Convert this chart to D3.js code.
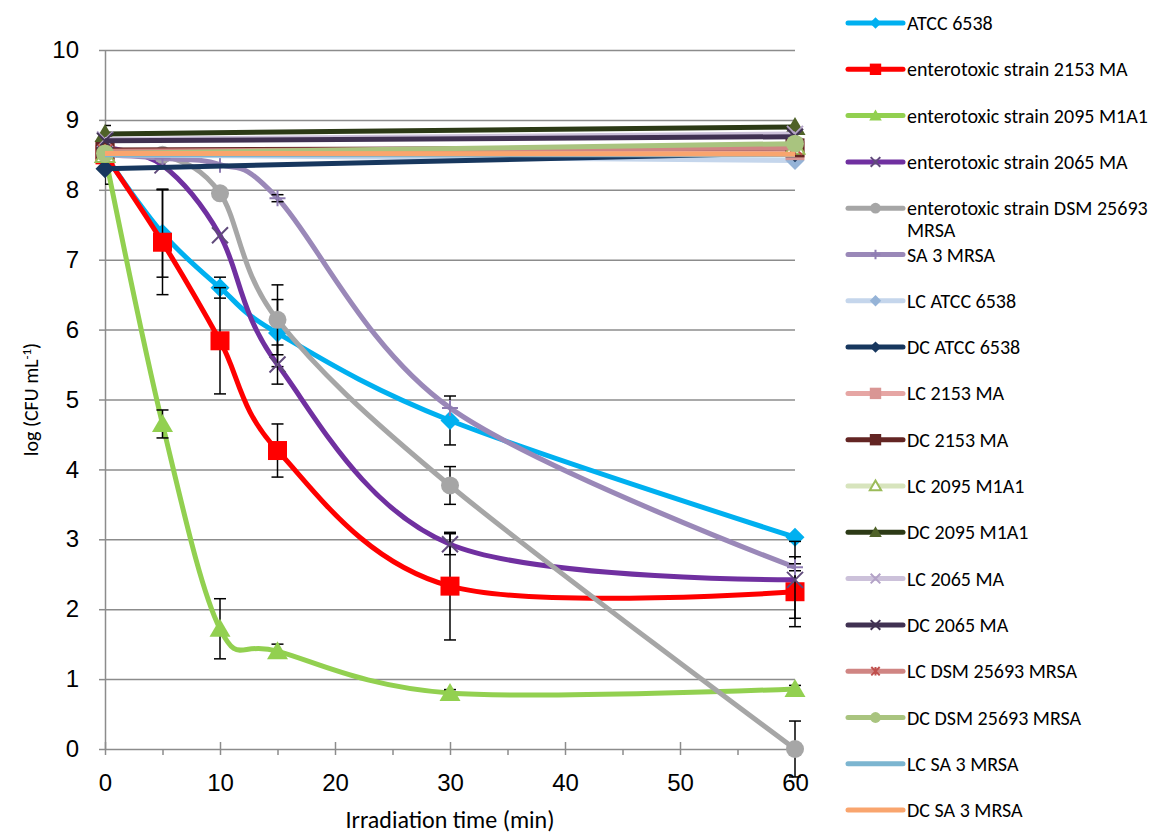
<!DOCTYPE html>
<html>
<head>
<meta charset="utf-8">
<script src="https://cdn.jsdelivr.net/npm/d3@7"></script>
<style>
  body { margin: 0; background: #fff; }
  svg { font-family: Carlito, Lato, sans-serif; }
  .grid line { stroke: #8c8c8c; stroke-width: 1.5; }
  .grid path { display: none; }
  .axis path, .axis line { stroke: #8c8c8c; stroke-width: 1.5; }
  .axis text { fill: #000; font-size: 24px; }
</style>
</head>
<body>
<script>
// time points (min)
var times = [0, 5, 10, 15, 30, 60];
var ctrlTimes = [0, 60];

// irradiated strains, log (CFU/mL)
var atcc6538 = [8.5, 7.38, 6.6, 5.95, 4.7, 3.03];
var ma2153 = [8.5, 7.25, 5.84, 4.27, 2.33, 2.25];
var m1a1_2095 = [8.5, 4.65, 1.72, 1.4, 0.8, 0.86];
var ma2065 = [8.6, 8.35, 7.35, 5.5, 2.93, 2.42];
var dsm25693 = [8.5, 8.5, 7.95, 6.14, 3.77, 0];
var sa3 = [8.5, 8.45, 8.36, 7.88, 4.88, 2.6];

// standard deviations
var atcc6538Err = [0.42, 0.63, 0.15, 0.48, 0.35, 0];
var ma2153Err = [0, 0.75, 0.76, 0.38, 0.77, 0.5];
var m1a1_2095Err = [0, 0.2, 0.43, 0.1, 0.05, 0.05];
var ma2065Err = [0, 0, 0, 0.28, 0.15, 0.55];
var dsm25693Err = [0, 0, 0, 0.5, 0.27, 0.4];
var sa3Err = [0, 0, 0, 0.05, 0, 0.05];

// light (LC) and dark (DC) controls, at 0 and 60 min
var lcAtcc = [8.5, 8.42];
var dcAtcc = [8.3, 8.53];
var lc2153 = [8.55, 8.56];
var dc2153 = [8.57, 8.6];
var lc2095 = [8.5, 8.62];
var dc2095 = [8.8, 8.9];
var lc2065 = [8.72, 8.8];
var dc2065 = [8.7, 8.76];
var lcDsm = [8.55, 8.6];
var dcDsm = [8.52, 8.66];
var lcSa3 = [8.5, 8.5];
var dcSa3 = [8.52, 8.51];

var yTicks = [0, 1, 2, 3, 4, 5, 6, 7, 8, 9, 10];
var xTicks = [0, 10, 20, 30, 40, 50, 60];
var xMinorTicks = [5, 15, 25, 35, 45, 55];

var series = [
  {name: "ATCC 6538", x: times, y: atcc6538, err: atcc6538Err, color: "#00b0f0", mk: "diamond", mfill: "#00b0f0"},
  {name: "enterotoxic strain 2153 MA", x: times, y: ma2153, err: ma2153Err, color: "#ff0000", mk: "square", mfill: "#ff0000"},
  {name: "enterotoxic strain 2095 M1A1", x: times, y: m1a1_2095, err: m1a1_2095Err, color: "#92d050", mk: "triangle", mfill: "#92d050"},
  {name: "enterotoxic strain 2065 MA", x: times, y: ma2065, err: ma2065Err, color: "#7030a0", mk: "x", mfill: "#604a7b"},
  {name: "enterotoxic strain DSM 25693 MRSA", x: times, y: dsm25693, err: dsm25693Err, color: "#a6a6a6", mk: "circle", mfill: "#a6a6a6"},
  {name: "SA 3 MRSA", x: times, y: sa3, err: sa3Err, color: "#9a88b8", mk: "plus", mfill: "#8e7cb2"},
  {name: "LC ATCC 6538", x: ctrlTimes, y: lcAtcc, color: "#c5d6ec", mk: "diamond", mfill: "#95b3d7"},
  {name: "DC ATCC 6538", x: ctrlTimes, y: dcAtcc, color: "#17375e", mk: "diamond", mfill: "#17375e"},
  {name: "LC 2153 MA", x: ctrlTimes, y: lc2153, color: "#e6a6a4", mk: "square", mfill: "#d99694"},
  {name: "DC 2153 MA", x: ctrlTimes, y: dc2153, color: "#632523", mk: "square", mfill: "#632523"},
  {name: "LC 2095 M1A1", x: ctrlTimes, y: lc2095, color: "#d7e4bd", mk: "opentri", mfill: "#9bbb59"},
  {name: "DC 2095 M1A1", x: ctrlTimes, y: dc2095, color: "#2c3a16", mk: "triangle", mfill: "#4f6228"},
  {name: "LC 2065 MA", x: ctrlTimes, y: lc2065, color: "#ccc1da", mk: "x", mfill: "#b3a2c7"},
  {name: "DC 2065 MA", x: ctrlTimes, y: dc2065, color: "#403152", mk: "x", mfill: "#403152"},
  {name: "LC DSM 25693 MRSA", x: ctrlTimes, y: lcDsm, color: "#d08583", mk: "star", mfill: "#c0504d"},
  {name: "DC DSM 25693 MRSA", x: ctrlTimes, y: dcDsm, color: "#a9c47f", mk: "circle", mfill: "#a9c47f"},
  {name: "LC SA 3 MRSA", x: ctrlTimes, y: lcSa3, color: "#7cb5d0", mk: "none"},
  {name: "DC SA 3 MRSA", x: ctrlTimes, y: dcSa3, color: "#f9a56e", mk: "none"}
];

var W = 1173, H = 837;
var plot = {left: 105, right: 795, top: 50, bottom: 749};

var svg = d3.select("body").append("svg")
  .attr("width", W).attr("height", H);

var xScale = d3.scaleLinear().domain([0, 60]).range([plot.left, plot.right]);
var yScale = d3.scaleLinear().domain([0, 10]).range([plot.bottom, plot.top]);

// horizontal gridlines
svg.append("g")
  .attr("class", "grid")
  .attr("transform", "translate(" + plot.left + ",0)")
  .call(d3.axisLeft(yScale).tickValues(yTicks.slice(1)).tickSize(-(plot.right - plot.left)).tickFormat(""));

// y axis
var gy = svg.append("g")
  .attr("class", "axis")
  .attr("transform", "translate(" + plot.left + ",0)")
  .call(d3.axisLeft(yScale).tickValues(yTicks).tickSizeInner(6).tickSizeOuter(0).tickPadding(20));

// x axis, minor ticks first
svg.append("g")
  .attr("class", "axis")
  .attr("transform", "translate(0," + plot.bottom + ")")
  .call(d3.axisBottom(xScale).tickValues(xMinorTicks).tickSize(6).tickFormat(""))
  .select(".domain").remove();

var gx = svg.append("g")
  .attr("class", "axis")
  .attr("transform", "translate(0," + plot.bottom + ")")
  .call(d3.axisBottom(xScale).tickValues(xTicks).tickSizeInner(6).tickSizeOuter(0).tickPadding(19));
gx.selectAll(".tick line").attr("y1", -7).attr("y2", 6);

// axis titles
svg.append("text")
  .attr("x", (plot.left + plot.right) / 2)
  .attr("y", 828)
  .attr("text-anchor", "middle")
  .style("font-size", "24px")
  .text("Irradiation time (min)");

var yt = svg.append("text")
  .attr("transform", "translate(38," + ((plot.top + plot.bottom) / 2) + ") rotate(-90)")
  .attr("text-anchor", "middle")
  .style("font-size", "20px");
yt.append("tspan").text("log (CFU mL");
yt.append("tspan").attr("baseline-shift", "super").style("font-size", "13px").text("-1");
yt.append("tspan").text(")");

// marker drawing
function drawMarker(g, type, s, fill, stroke) {
  if (type === "none") return;
  if (type === "diamond") {
    g.append("path").attr("d", "M0," + (-s) + "L" + s + ",0L0," + s + "L" + (-s) + ",0Z").attr("fill", fill);
  } else if (type === "square") {
    g.append("rect").attr("x", -s).attr("y", -s).attr("width", 2 * s).attr("height", 2 * s).attr("fill", fill);
  } else if (type === "triangle" || type === "opentri") {
    var p = "M0," + (-s) + "L" + (s * 1.05) + "," + (s * 0.8) + "L" + (-s * 1.05) + "," + (s * 0.8) + "Z";
    if (type === "triangle") g.append("path").attr("d", p).attr("fill", fill);
    else g.append("path").attr("d", p).attr("fill", "#fff").attr("stroke", fill).attr("stroke-width", 2);
  } else if (type === "circle") {
    g.append("circle").attr("r", s).attr("fill", fill);
  } else if (type === "x" || type === "plus" || type === "star") {
    var d = "";
    if (type === "x" || type === "star") d += "M" + (-s) + "," + (-s) + "L" + s + "," + s + "M" + (-s) + "," + s + "L" + s + "," + (-s);
    if (type === "plus") d += "M" + (-s) + ",0L" + s + ",0";
    if (type === "plus" || type === "star") d += "M0," + (-s) + "L0," + s;
    g.append("path").attr("d", d).attr("fill", "none").attr("stroke", fill).attr("stroke-width", 2);
  }
}

var markerSize = {diamond: 9.5, square: 9.5, triangle: 10, opentri: 9, circle: 9, x: 8, plus: 8, star: 7, none: 0};

svg.append("clipPath").attr("id", "errclip")
  .append("rect").attr("x", plot.left).attr("y", 0).attr("width", W - plot.left).attr("height", H);

var line = d3.line()
  .x(function(d) { return xScale(d[0]); })
  .y(function(d) { return yScale(d[1]); })
  .curve(d3.curveCatmullRom.alpha(0));

var dataLayer = svg.append("g");

series.forEach(function(s) {
  var pts = s.x.map(function(t, i) { return [t, s.y[i]]; });
  var g = dataLayer.append("g");
  g.append("path")
    .datum(pts)
    .attr("d", line)
    .attr("fill", "none")
    .attr("stroke", s.color)
    .attr("stroke-width", 5)
    .attr("stroke-linejoin", "round");

  if (s.err) {
    var eg = g.append("g").attr("clip-path", "url(#errclip)");
    pts.forEach(function(p, i) {
      var e = s.err[i];
      if (!e) return;
      var cx = xScale(p[0]);
      var y1 = yScale(p[1] + e), y2 = yScale(p[1] - e);
      eg.append("line").attr("x1", cx).attr("x2", cx).attr("y1", y1).attr("y2", y2)
        .attr("stroke", "#000").attr("stroke-width", 1.5);
      [y1, y2].forEach(function(yy) {
        eg.append("line").attr("x1", cx - 6).attr("x2", cx + 6).attr("y1", yy).attr("y2", yy)
          .attr("stroke", "#000").attr("stroke-width", 1.5);
      });
    });
  }

  pts.forEach(function(p) {
    var mg = g.append("g").attr("transform", "translate(" + xScale(p[0]) + "," + yScale(p[1]) + ")");
    drawMarker(mg, s.mk, markerSize[s.mk], s.mfill);
  });
});

// legend
var legend = svg.append("g");
var rowH = 46.3, row0 = 23, legFont = 20;
series.forEach(function(s, i) {
  var cy = row0 + i * rowH;
  var lg = legend.append("g").attr("transform", "translate(0," + cy + ")");
  lg.append("line").attr("x1", 848).attr("x2", 903).attr("y1", 0).attr("y2", 0)
    .attr("stroke", s.color).attr("stroke-width", 5).attr("stroke-linecap", "round");
  var mg = lg.append("g").attr("transform", "translate(875.5,0)");
  drawMarker(mg, s.mk, markerSize[s.mk] * 0.6, s.mfill);

  var txt = lg.append("text").attr("x", 907).attr("y", 0)
    .style("font-size", legFont + "px");
  var t1 = txt.append("tspan").attr("x", 907).attr("dy", "0.35em").text(s.name);
  // wrap long labels onto a second line
  var maxW = W - 907 - 2;
  if (t1.node().getComputedTextLength() > maxW) {
    var words = s.name.split(" ");
    var first = words.slice(), rest = [];
    while (first.length > 1) {
      rest.unshift(first.pop());
      t1.text(first.join(" "));
      if (t1.node().getComputedTextLength() <= maxW) break;
    }
    txt.append("tspan").attr("x", 907).attr("dy", "1.1em").text(rest.join(" "));
  }
});
</script>
</body>
</html>
